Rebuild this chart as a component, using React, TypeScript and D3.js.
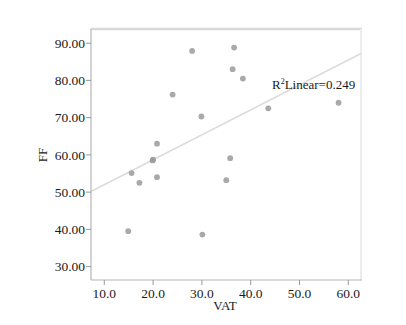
import React from "react";
import * as d3 from "d3";

const vat = [28.0, 36.6, 36.3, 38.4, 24.0, 29.9, 43.6, 58.0, 20.8, 20.0, 19.9, 15.6, 17.2, 20.8, 35.8, 35.0, 14.9, 30.1];
const ff = [87.9, 88.8, 83.0, 80.5, 76.2, 70.3, 72.5, 74.0, 63.0, 58.7, 58.5, 55.1, 52.5, 54.0, 59.1, 53.2, 39.5, 38.6];
const xTicks = [10, 20, 30, 40, 50, 60];
const yTicks = [30, 40, 50, 60, 70, 80, 90];
const fitIntercept = 45.3;
const fitSlope = 0.67;
const r2Label = "0.249";

export default function App() {
  const W = 406, H = 325;
  const left = 91, right = 361, top = 29, bottom = 280;
  const x = d3.scaleLinear().domain([7.28, 62.6]).range([left, right]);
  const y = d3.scaleLinear().domain([26.4, 93.8]).range([bottom, top]);
  const font = "'Liberation Serif', 'Times New Roman', serif";
  const x0 = x.domain()[0], x1 = x.domain()[1];
  const line = d3.line<number>().x((d) => x(d)).y((d) => y(fitIntercept + fitSlope * d));
  return (
    <svg width={W} height={H} style={{ position: "absolute", left: 0, top: 0, background: "#fff" }}>
      <defs>
        <filter id="blur" x="-50%" y="-50%" width="200%" height="200%">
          <feGaussianBlur stdDeviation="0.6" />
        </filter>
      </defs>
      <rect x={left} y={top} width={right - left} height={bottom - top} fill="#fff" />
      <line x1={left} x2={right + 1} y1={top} y2={top} stroke="#d8d8d8" strokeWidth={2.5} />
      <line x1={right} x2={right} y1={top} y2={bottom} stroke="#ececec" strokeWidth={2} />
      <path d={line([x0, x1]) || ""} stroke="#dcdcdc" strokeWidth={1.6} fill="none" />
      {vat.map((v, i) => (
        <circle key={i} cx={x(v)} cy={y(ff[i])} r={2.9} fill="#9a9a9a" fillOpacity={0.85} filter="url(#blur)" />
      ))}
      <line x1={left} x2={left} y1={top} y2={bottom} stroke="#b5b5b5" strokeWidth={1.2} />
      <line x1={left} x2={right + 1} y1={bottom} y2={bottom} stroke="#b5b5b5" strokeWidth={1.2} />
      {yTicks.map((t) => (
        <g key={t}>
          <line x1={left - 5} x2={left} y1={y(t)} y2={y(t)} stroke="#999" strokeWidth={1} />
          <text x={left - 6} y={y(t)} dy="0.35em" textAnchor="end" fontFamily={font} fontSize={13.5} fill="#1a1a1a">
            {t.toFixed(2)}
          </text>
        </g>
      ))}
      {xTicks.map((t) => (
        <g key={t}>
          <line x1={x(t)} x2={x(t)} y1={bottom} y2={bottom + 5} stroke="#999" strokeWidth={1} />
          <text x={x(t)} y={bottom + 18} textAnchor="middle" fontFamily={font} fontSize={13.5} fill="#1a1a1a">
            {t.toFixed(1)}
          </text>
        </g>
      ))}
      <text x={225} y={310} textAnchor="middle" fontFamily={font} fontSize={13} fill="#1a1a1a">VAT</text>
      <text transform={`translate(47,155) rotate(-90)`} textAnchor="middle" fontFamily={font} fontSize={13} fill="#1a1a1a">FF</text>
      <text x={272} y={89} fontFamily={font} fontSize={13} fill="#1a1a1a">
        R<tspan dy={-5} fontSize={8}>2</tspan><tspan dy={5}>Linear={r2Label}</tspan>
      </text>
    </svg>
  );
}
